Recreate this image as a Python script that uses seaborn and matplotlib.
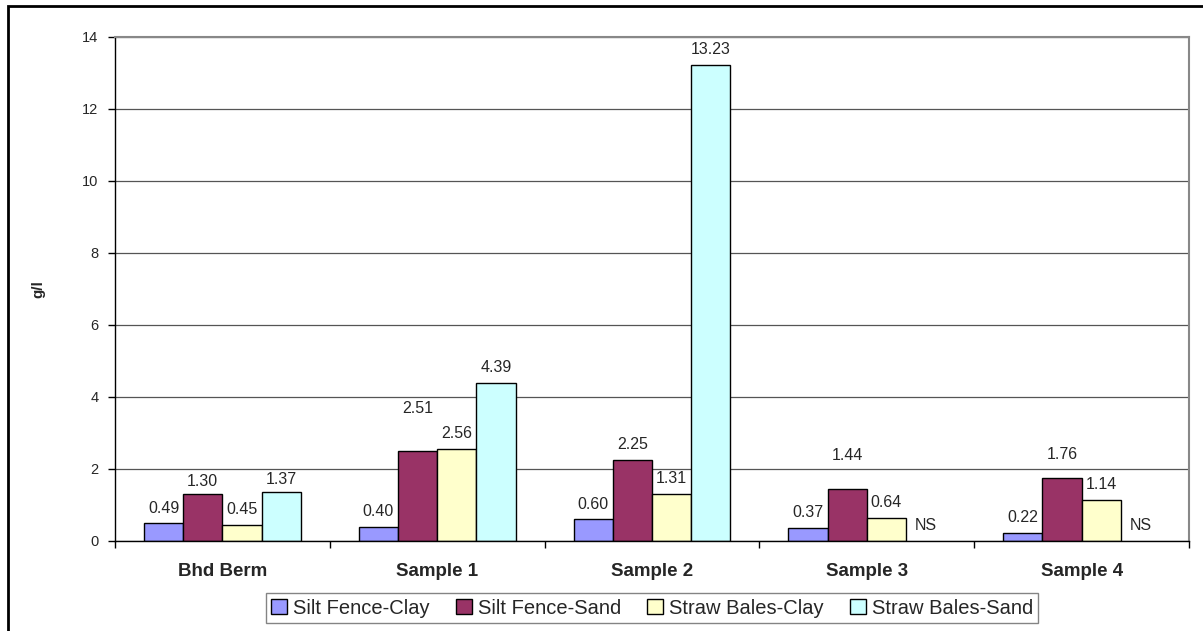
import numpy as np
import pandas as pd
import matplotlib
matplotlib.use("Agg")
import matplotlib.pyplot as plt
from matplotlib.patches import Patch, Rectangle
import seaborn as sns

categories = ["Bhd Berm", "Sample 1", "Sample 2", "Sample 3", "Sample 4"]
series = ["Silt Fence-Clay", "Silt Fence-Sand", "Straw Bales-Clay", "Straw Bales-Sand"]
silt_clay = [0.49, 0.40, 0.60, 0.37, 0.22]
silt_sand = [1.30, 2.51, 2.25, 1.44, 1.76]
straw_clay = [0.45, 2.56, 1.31, 0.64, 1.14]
straw_sand = [1.37, 4.39, 13.23, np.nan, np.nan]  # NS = not sampled
colors = ["#9999FF", "#993366", "#FFFFCC", "#CCFFFF"]

# how far each value label sits above its bar (points); excel moved a few
default_lift = 11
label_lift = {(1, 0): 9, (3, 0): 9, (1, 1): 30, (1, 3): 24, (1, 4): 17}

rows = []
for s, vals in zip(series, [silt_clay, silt_sand, straw_clay, straw_sand]):
    for c, v in zip(categories, vals):
        rows.append({"category": c, "series": s, "value": v})
df = pd.DataFrame(rows)

sns.set_style("white")
plt.rcParams["font.family"] = ["Liberation Sans", "DejaVu Sans"]

fig = plt.figure(figsize=(12.03, 6.31), dpi=100)
ax = fig.add_axes([115 / 1203, 1 - 541 / 631, 1074 / 1203, 504 / 631])

sns.barplot(data=df, x="category", y="value", hue="series", hue_order=series,
            order=categories, palette=colors, width=0.73, saturation=1,
            edgecolor="black", linewidth=1, errorbar=None, legend=False, ax=ax)

# value labels
hue_offset = {}
for h, cont in enumerate(ax.containers):
    for bar in cont:
        v = bar.get_height()
        if np.isnan(v):
            continue
        x = bar.get_x() + bar.get_width() / 2
        c = int(round(x))
        hue_offset[h] = x - c
        ax.annotate(f"{v:.2f}", (x, v), xytext=(0, label_lift.get((h, c), default_lift)),
                    textcoords="offset points", ha="center", va="center", fontsize=11.5)

# NS where straw bales-sand was not sampled
for c, v in enumerate(straw_sand):
    if np.isnan(v):
        ax.annotate("NS", (c + hue_offset[3], 0), xytext=(0, default_lift),
                    textcoords="offset points", ha="center", va="center", fontsize=11.5)

ax.set_ylim(0, 14)
ax.set_yticks(range(0, 15, 2))
ax.set_xlim(-0.5, 4.5)
ax.set_axisbelow(True)
ax.yaxis.grid(True, color="#555555", linewidth=0.9)

ax.set_xlabel("")
ax.set_ylabel("g/l", fontsize=11, fontweight="bold")
ax.yaxis.set_label_coords(-0.065, 0.5)

ax.tick_params(axis="y", direction="out", length=5, width=1, color="black",
               pad=7, labelsize=10.5, left=True)
ax.tick_params(axis="x", which="major", length=0, pad=16, labelsize=13.5)
for lab in ax.get_xticklabels():
    lab.set_fontweight("bold")
ax.set_xticks(np.arange(-0.5, 5, 1), minor=True)
ax.tick_params(axis="x", which="minor", direction="out", length=5, width=1,
               color="black", bottom=True)

for side in ["left", "bottom"]:
    ax.spines[side].set_color("black")
    ax.spines[side].set_linewidth(1)
for side in ["top", "right"]:
    ax.spines[side].set_color("#888888")
    ax.spines[side].set_linewidth(1.5)

handles = [Patch(facecolor=col, edgecolor="black", linewidth=1, label=s)
           for col, s in zip(colors, series)]
ax.legend(handles=handles, loc="center", bbox_to_anchor=(0.5, -0.133), ncol=4,
          frameon=True, fancybox=False, edgecolor="#666666", fontsize=14.5,
          handlelength=0.8, handleheight=0.8, handletextpad=0.3,
          columnspacing=1.3, borderpad=0.25, borderaxespad=0)

# outer chart border (runs off the right and bottom of the picture)
fig.add_artist(Rectangle((8 / 1203, -0.5), 2, 1 - 6 / 631 + 0.5,
                         transform=fig.transFigure, fill=False,
                         edgecolor="black", linewidth=2))

fig.savefig("out.png", dpi=100)
